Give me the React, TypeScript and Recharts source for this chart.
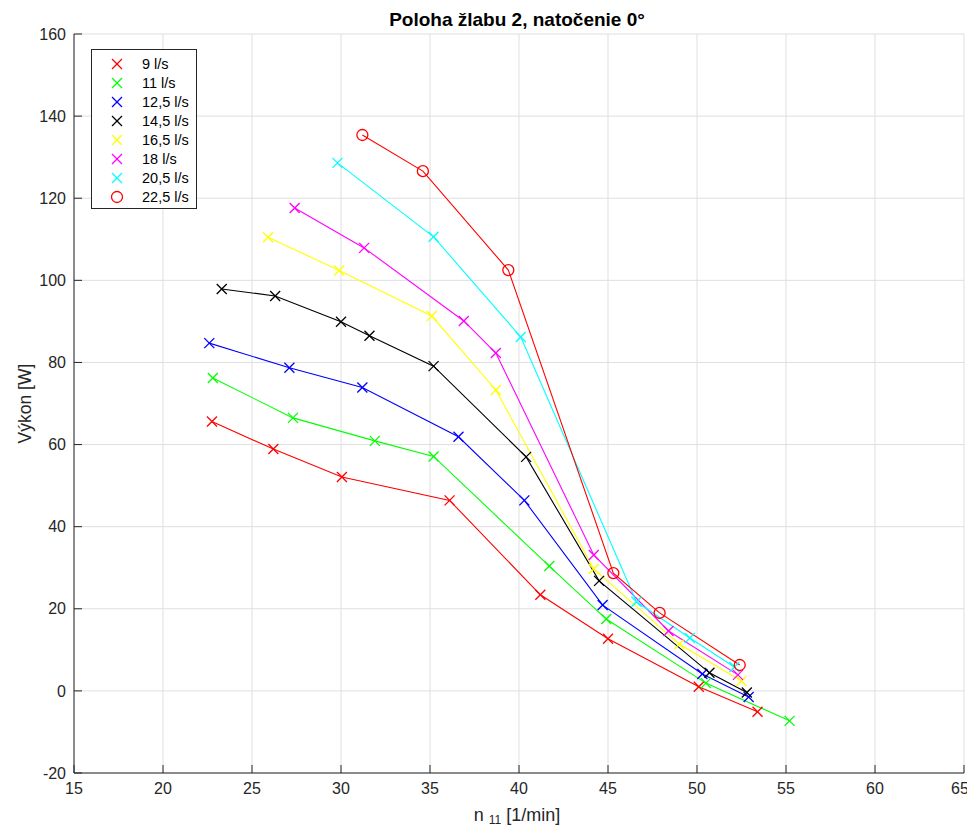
import React from 'react';
import { LineChart, Line, XAxis, YAxis, CartesianGrid, Legend } from 'recharts';

// n11 [1/min] and power [W] per flow rate
const n11_9 = [22.75, 26.2, 30.05, 36.1, 41.2, 45.0, 50.1, 53.4];
const p_9 = [65.6, 58.9, 52.1, 46.4, 23.4, 12.7, 1.0, -5.1];

const n11_11 = [22.8, 27.3, 31.9, 35.2, 41.7, 44.9, 50.5, 55.2];
const p_11 = [76.2, 66.5, 60.9, 57.1, 30.4, 17.5, 1.9, -7.3];

const n11_125 = [22.6, 27.1, 31.2, 36.6, 40.3, 44.7, 50.3, 52.9];
const p_125 = [84.7, 78.7, 73.9, 61.9, 46.4, 20.9, 4.1, -1.5];

const n11_145 = [23.3, 26.3, 30.0, 31.6, 35.2, 40.4, 44.5, 50.7, 52.8];
const p_145 = [97.9, 96.2, 89.9, 86.5, 79.1, 57.0, 26.8, 4.4, -0.4];

const n11_165 = [25.9, 29.9, 35.1, 38.7, 44.2, 49.0, 52.5];
const p_165 = [110.5, 102.4, 91.3, 73.3, 29.7, 11.4, 2.4];

const n11_18 = [27.4, 31.3, 36.9, 38.7, 44.2, 48.4, 52.3];
const p_18 = [117.6, 107.9, 90.1, 82.3, 33.1, 14.6, 3.9];

const n11_205 = [29.8, 35.2, 40.1, 46.6, 49.6, 52.1];
const p_205 = [128.6, 110.6, 86.2, 21.7, 12.9, 5.8];

const n11_225 = [31.2, 34.6, 39.4, 45.3, 47.9, 52.4];
const p_225 = [135.4, 126.6, 102.5, 28.7, 19.0, 6.3];

const xTicks = [15, 20, 25, 30, 35, 40, 45, 50, 55, 60, 65];
const yTicks = [-20, 0, 20, 40, 60, 80, 100, 120, 140, 160];

const toPoints = (xs: number[], ys: number[]) => xs.map((x, i) => ({ x, y: ys[i] }));

const series = [
  { name: '9 l/s', color: '#ff0000', marker: 'x', data: toPoints(n11_9, p_9) },
  { name: '11 l/s', color: '#00ff00', marker: 'x', data: toPoints(n11_11, p_11) },
  { name: '12,5 l/s', color: '#0000ff', marker: 'x', data: toPoints(n11_125, p_125) },
  { name: '14,5 l/s', color: '#000000', marker: 'x', data: toPoints(n11_145, p_145) },
  { name: '16,5 l/s', color: '#ffff00', marker: 'x', data: toPoints(n11_165, p_165) },
  { name: '18 l/s', color: '#ff00ff', marker: 'x', data: toPoints(n11_18, p_18) },
  { name: '20,5 l/s', color: '#00ffff', marker: 'x', data: toPoints(n11_205, p_205) },
  { name: '22,5 l/s', color: '#ff0000', marker: 'o', data: toPoints(n11_225, p_225) },
];

const FONT = '"Liberation Sans", Arial, Helvetica, sans-serif';
const AXIS = '#262626';

const Marker = ({ cx, cy, color, kind }: { cx: number; cy: number; color: string; kind: string }) => {
  if (kind === 'o') {
    return <circle cx={cx} cy={cy} r={5.5} fill="none" stroke={color} strokeWidth={1.3} />;
  }
  const s = 5;
  return (
    <g stroke={color} strokeWidth={1.3}>
      <line x1={cx - s} y1={cy - s} x2={cx + s} y2={cy + s} />
      <line x1={cx - s} y1={cy + s} x2={cx + s} y2={cy - s} />
    </g>
  );
};

const makeDot = (color: string, kind: string) => (props: any) => {
  const { cx, cy, index } = props;
  if (cx == null || cy == null) return <g key={index} />;
  return <Marker key={index} cx={cx} cy={cy} color={color} kind={kind} />;
};

const LegendBox = () => (
  <div
    style={{
      border: '1px solid #262626',
      background: '#fff',
      width: 104,
      padding: '4px 0 1px 0',
      fontFamily: FONT,
      fontSize: 14.5,
      color: '#000',
    }}
  >
    {series.map((s) => (
      <div key={s.name} style={{ display: 'flex', alignItems: 'center', height: 19.1 }}>
        <svg width={50} height={16} style={{ flexShrink: 0 }}>
          <Marker cx={25} cy={8} color={s.color} kind={s.marker} />
        </svg>
        <span>{s.name}</span>
      </div>
    ))}
  </div>
);

const XLabel = (props: any) => {
  const { viewBox } = props;
  const cx = viewBox.x + viewBox.width / 2 - 2;
  const base = viewBox.y + 48;
  return (
    <text x={cx} y={base} textAnchor="middle" fontFamily={FONT} fontSize={18} fill={AXIS}>
      <tspan>n </tspan>
      <tspan fontSize={12} dy={3}>11</tspan>
      <tspan dy={-3}>  [1/min]</tspan>
    </text>
  );
};

const YLabel = (props: any) => {
  const { viewBox } = props;
  const cy = viewBox.y + viewBox.height / 2;
  const bx = 23;
  return (
    <text
      x={bx}
      y={cy}
      textAnchor="middle"
      fontFamily={FONT}
      fontSize={17.5}
      fill={AXIS}
      transform={`rotate(-90, ${bx}, ${cy})`}
    >
      Výkon [W]
    </text>
  );
};

const App: React.FC = () => {
  return (
    <div style={{ position: 'relative', width: 960, height: 819 }}>
      <div
        style={{
          position: 'absolute',
          left: 66,
          width: 886,
          top: 1,
          textAlign: 'center',
          fontFamily: FONT,
          fontWeight: 'bold',
          fontSize: 19,
          color: '#000',
        }}
      >
        Poloha žlabu 2, natočenie 0°
      </div>
      <LineChart width={960} height={819} margin={{ top: 26, right: 4, bottom: 7, left: 16 }}>
        <CartesianGrid stroke="#dfdfdf" strokeWidth={1} />
        <XAxis
          dataKey="x"
          type="number"
          domain={[15, 65]}
          ticks={xTicks}
          allowDataOverflow
          height={47}
          stroke={AXIS}
          tickSize={-8}
          tickMargin={18}
          tick={{ fill: AXIS, fontSize: 16, fontFamily: FONT }}
          label={<XLabel />}
        />
        <XAxis
          xAxisId="top"
          orientation="top"
          dataKey="x"
          type="number"
          domain={[15, 65]}
          ticks={xTicks}
          height={0}
          stroke={AXIS}
          tickSize={-8}
          tickFormatter={() => ''}
        />
        <YAxis
          type="number"
          domain={[-20, 160]}
          ticks={yTicks}
          allowDataOverflow
          width={50}
          stroke={AXIS}
          tickSize={-8}
          tickMargin={16}
          tick={{ fill: AXIS, fontSize: 16, fontFamily: FONT }}
          label={<YLabel />}
        />
        <YAxis
          yAxisId="right"
          orientation="right"
          type="number"
          domain={[-20, 160]}
          ticks={yTicks}
          width={0}
          stroke={AXIS}
          tickSize={-8}
          tickFormatter={() => ''}
        />
        <Legend
          layout="vertical"
          align="center"
          verticalAlign="middle"
          content={() => <LegendBox />}
          wrapperStyle={{ position: 'absolute', left: 83, top: 41, width: 'auto' }}
        />
        {series.map((s) => (
          <Line
            key={s.name}
            data={s.data}
            dataKey="y"
            name={s.name}
            type="linear"
            stroke={s.color}
            strokeWidth={1.1}
            dot={makeDot(s.color, s.marker)}
            activeDot={false}
            legendType="none"
            isAnimationActive={false}
          />
        ))}
      </LineChart>
    </div>
  );
};

export default App;
